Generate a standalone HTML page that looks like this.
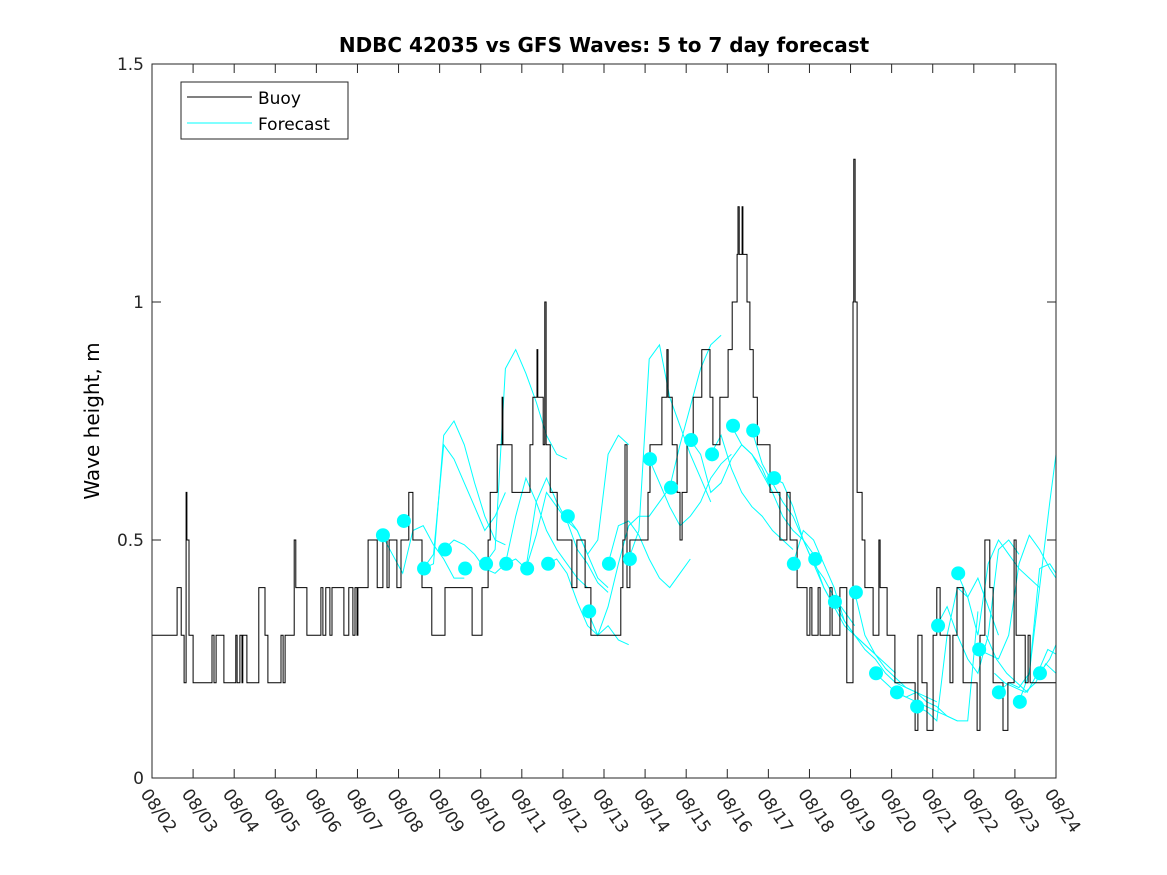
<!DOCTYPE html>
<html><head><meta charset="utf-8"><style>
body{margin:0;background:#fff}
svg{display:block;font-family:"Liberation Sans","DejaVu Sans",sans-serif}
</style></head><body>
<svg id="chart" width="1167" height="875" viewBox="0 0 1167 875">
<rect width="1167" height="875" fill="#fff"/>
<text x="604" y="52" text-anchor="middle" font-size="20" font-weight="bold" font-family="DejaVu Sans, sans-serif">NDBC 42035 vs GFS Waves: 5 to 7 day forecast</text>
<text transform="translate(99,421) rotate(-90)" text-anchor="middle" font-size="20" font-family="DejaVu Sans, sans-serif">Wave height, m</text>
<g id="forecasts"></g>
<g id="buoy"></g>
<g id="markers"></g>
<rect x="152" y="64" width="904" height="714" fill="none" stroke="#262626" stroke-width="1"/>
<g id="axes" font-family="DejaVu Sans, sans-serif" font-size="17" fill="#262626"></g>
<g>
<rect x="181" y="82" width="167" height="57" fill="#fff" stroke="#262626"/>
<line x1="187" y1="97" x2="252" y2="97" stroke="#000"/>
<text x="258" y="104" font-size="17" font-family="DejaVu Sans, sans-serif">Buoy</text>
<line x1="187" y1="123" x2="252" y2="123" stroke="#00ffff"/>
<text x="258" y="130" font-size="17" font-family="DejaVu Sans, sans-serif">Forecast</text>
</g>
</svg>
<script>
const xTickLabels=["08/02","08/03","08/04","08/05","08/06","08/07","08/08","08/09","08/10","08/11","08/12","08/13","08/14","08/15","08/16","08/17","08/18","08/19","08/20","08/21","08/22","08/23","08/24"];
const yTicks=[0,0.5,1,1.5];
const yTickLabels=["0","0.5","1","1.5"];
const buoyDays=[0,0.61,0.71,0.78,0.83,0.85,0.90,1.00,1.46,1.51,1.56,1.75,2.04,2.07,2.14,2.19,2.21,2.31,2.60,2.75,2.82,3.14,3.19,3.24,3.46,3.50,3.77,4.11,4.16,4.23,4.33,4.38,4.67,4.79,4.89,4.94,4.99,5.01,5.26,5.48,5.62,5.72,5.77,5.96,6.06,6.25,6.35,6.57,6.81,7.13,7.79,8.03,8.18,8.23,8.40,8.52,8.54,8.76,9.20,9.27,9.37,9.39,9.52,9.56,9.59,9.69,9.86,10.22,10.34,10.54,10.68,11.41,11.46,11.51,11.56,11.63,12.07,12.12,12.41,12.53,12.56,12.66,12.78,12.85,12.90,13.02,13.17,13.38,13.58,13.65,13.82,14.02,14.12,14.24,14.26,14.29,14.36,14.38,14.48,14.55,14.63,14.73,15.04,15.28,15.45,15.53,15.70,15.94,16.01,16.06,16.21,16.26,16.50,16.55,16.74,16.91,17.06,17.08,17.11,17.16,17.28,17.35,17.55,17.69,17.72,17.89,18.08,18.57,18.64,18.74,18.86,19.01,19.10,19.18,19.42,19.49,19.59,19.74,20.08,20.15,20.27,20.39,20.47,20.71,20.83,20.98,21.03,21.25,21.32,21.37];
const buoyVals=[0.3,0.4,0.3,0.2,0.6,0.5,0.3,0.2,0.3,0.2,0.3,0.2,0.3,0.2,0.3,0.2,0.3,0.2,0.4,0.3,0.2,0.3,0.2,0.3,0.5,0.4,0.3,0.4,0.3,0.4,0.3,0.4,0.3,0.4,0.3,0.4,0.3,0.4,0.5,0.4,0.5,0.4,0.5,0.4,0.5,0.6,0.5,0.4,0.3,0.4,0.3,0.4,0.5,0.6,0.7,0.8,0.7,0.6,0.7,0.8,0.9,0.8,0.7,1.0,0.7,0.6,0.5,0.4,0.5,0.4,0.3,0.4,0.5,0.7,0.4,0.5,0.6,0.7,0.8,0.9,0.8,0.7,0.6,0.5,0.6,0.7,0.8,0.9,0.8,0.7,0.8,0.9,1.0,1.1,1.2,1.1,1.2,1.1,1.0,0.9,0.8,0.7,0.6,0.5,0.6,0.5,0.4,0.3,0.4,0.3,0.4,0.3,0.4,0.3,0.4,0.2,1.0,1.3,1.0,0.6,0.5,0.4,0.3,0.5,0.4,0.3,0.2,0.1,0.3,0.2,0.1,0.3,0.4,0.3,0.2,0.3,0.4,0.2,0.1,0.3,0.5,0.4,0.2,0.1,0.2,0.5,0.3,0.2,0.3,0.2];
const buoyEnd=22;
const markerDays=[5.62,6.13,6.62,7.13,7.62,8.13,8.62,9.13,9.64,10.12,10.64,11.12,11.63,12.12,12.63,13.12,13.63,14.14,14.63,15.14,15.62,16.14,16.62,17.13,17.62,18.13,18.62,19.13,19.62,20.13,20.61,21.12,21.61];
const markerVals=[0.51,0.54,0.44,0.48,0.44,0.45,0.45,0.44,0.45,0.55,0.35,0.45,0.46,0.67,0.61,0.71,0.68,0.74,0.73,0.63,0.45,0.46,0.37,0.39,0.22,0.18,0.15,0.32,0.43,0.27,0.18,0.16,0.22];
const fcStarts=[5.6,6.6,6.6,7.1,8.1,8.6,9.1,9.1,9.6,10.1,10.6,11.1,11.6,12.1,12.6,13.1,13.6,14.1,14.6,15.1,15.6,16.1,16.6,17.1,17.6,18.1,18.6,19.1,19.6,20.1,20.6,21.1,21.6,20.3,20.5];
const fcVals=[
[0.51,0.47,0.43,0.52,0.53,0.49,0.46,0.42,0.42],
[0.44,0.45,0.72,0.75,0.70,0.62,0.55,0.50,0.49],
[0.44,0.47,0.70,0.67,0.62,0.57,0.52,0.55,0.60],
[0.48,0.50,0.49,0.47,0.44,0.43,0.45,0.46,0.44],
[0.45,0.48,0.86,0.90,0.85,0.79,0.72,0.68,0.67],
[0.45,0.55,0.63,0.58,0.52,0.48,0.45,0.42,0.40],
[0.44,0.58,0.63,0.58,0.54,0.52,0.47,0.42,0.40],
[0.44,0.51,0.60,0.57,0.54,0.48,0.45,0.41,0.39],
[0.45,0.46,0.43,0.37,0.32,0.30,0.32,0.29,0.28],
[0.55,0.52,0.47,0.50,0.68,0.72,0.70],
[0.35,0.30,0.36,0.45,0.53,0.55,0.55,0.58,0.61],
[0.45,0.53,0.54,0.51,0.46,0.42,0.40,0.43,0.46],
[0.46,0.52,0.88,0.91,0.80,0.74,0.68,0.63,0.58],
[0.67,0.62,0.57,0.53,0.55,0.58,0.63,0.66,0.68],
[0.61,0.70,0.78,0.86,0.91,0.93],
[0.71,0.68,0.60,0.62,0.67,0.70,0.68,0.64,0.60],
[0.68,0.72,0.65,0.60,0.57,0.55,0.52,0.50,0.48],
[0.74,0.70,0.68,0.65,0.60,0.55,0.52,0.50,0.47],
[0.73,0.66,0.62,0.58,0.55,0.50,0.45,0.40,0.36],
[0.63,0.62,0.57,0.50,0.45,0.42,0.38,0.35,0.32],
[0.45,0.52,0.50,0.45,0.40,0.33,0.30,0.28,0.26],
[0.46,0.40,0.36,0.32,0.30,0.28,0.26,0.24,0.22],
[0.37,0.33,0.30,0.27,0.25,0.22,0.20,0.19,0.18],
[0.39,0.30,0.26,0.23,0.21,0.19,0.18,0.17,0.16],
[0.22,0.20,0.18,0.17,0.16,0.15,0.14,0.13,0.12],
[0.18,0.17,0.18,0.16,0.15,0.13,0.12,0.12,0.35],
[0.15,0.14,0.12,0.30,0.40,0.38,0.42,0.36,0.30],
[0.32,0.36,0.30,0.25,0.22,0.30,0.48,0.50,0.47],
[0.43,0.38,0.30,0.45,0.50,0.47,0.44,0.42,0.40],
[0.27,0.26,0.25,0.30,0.45,0.51,0.48,0.44,0.42],
[0.18,0.20,0.19,0.22,0.44,0.45,0.43,0.38,0.41],
[0.16,0.22,0.40,0.58,0.68,0.45,0.43,0.38,0.41],
[0.22,0.25,0.28,0.26,0.24,0.25],
[0.30,0.25,0.22,0.20,0.18,0.22,0.27,0.26,0.24,0.22],
[0.22,0.20,0.19,0.18,0.20,0.24,0.22,0.21,0.20,0.21]
];
const fcStep=0.25;
const NS="http://www.w3.org/2000/svg";
const X0=152,X1=1056,Y0=778,Y1=64,DMAX=22,VMAX=1.5;
const xs=d=>X0+(X1-X0)*d/DMAX;
const ys=v=>Y0-(Y0-Y1)*v/VMAX;
function mk(tag,parent){const e=document.createElementNS(NS,tag);parent.appendChild(e);return e;}
const fg=document.getElementById('forecasts');
fcVals.forEach((vals,i)=>{
 const p=mk('polyline',fg);
 
 
 p.setAttribute('points',vals.map((v,j)=>xs(Math.min(DMAX,fcStarts[i]+j*fcStep)).toFixed(1)+','+ys(v).toFixed(1)).join(' '));
 p.setAttribute('fill','none');p.setAttribute('stroke','#00ffff');p.setAttribute('stroke-width','1');
});
let pts=[];
for(let i=0;i<buoyDays.length;i++){
 if(i>0)pts.push(xs(buoyDays[i]).toFixed(1)+','+ys(buoyVals[i-1]).toFixed(1));
 pts.push(xs(buoyDays[i]).toFixed(1)+','+ys(buoyVals[i]).toFixed(1));
}
pts.push(xs(buoyEnd).toFixed(1)+','+ys(buoyVals[buoyVals.length-1]).toFixed(1));
const bl=mk('polyline',document.getElementById('buoy'));


bl.setAttribute('points',pts.join(' '));bl.setAttribute('fill','none');bl.setAttribute('stroke','#000');bl.setAttribute('stroke-width','1');
const mg=document.getElementById('markers');
markerDays.forEach((d,i)=>{
 const c=mk('ellipse',mg);
 
 
 c.setAttribute('cx',xs(d));c.setAttribute('cy',ys(markerVals[i]));c.setAttribute('rx',7);c.setAttribute('ry',7);c.setAttribute('fill','#00ffff');
});
const ag=document.getElementById('axes');
yTicks.forEach((v,i)=>{
 const y=ys(v);
 [[X0,X0+9],[X1,X1-9]].forEach(([a,b])=>{const l=mk('line',ag);
 
 
 l.setAttribute('x1',a);l.setAttribute('x2',b);l.setAttribute('y1',y);l.setAttribute('y2',y);l.setAttribute('stroke','#262626');});
 const t=mk('text',ag);
 
 
 t.setAttribute('x',X0-8);t.setAttribute('y',y+6);t.setAttribute('text-anchor','end');t.textContent=yTickLabels[i];
});
xTickLabels.forEach((lab,i)=>{
 const x=xs(i);
 [[Y0,Y0-9],[Y1,Y1+9]].forEach(([a,b])=>{const l=mk('line',ag);
 
 
 l.setAttribute('x1',x);l.setAttribute('x2',x);l.setAttribute('y1',a);l.setAttribute('y2',b);l.setAttribute('stroke','#262626');});
 const t=mk('text',ag);
 
 
 t.setAttribute('transform','translate('+(x-12)+','+(Y0+16)+') rotate(55)');t.textContent=lab;
});
</script>
</body></html>
